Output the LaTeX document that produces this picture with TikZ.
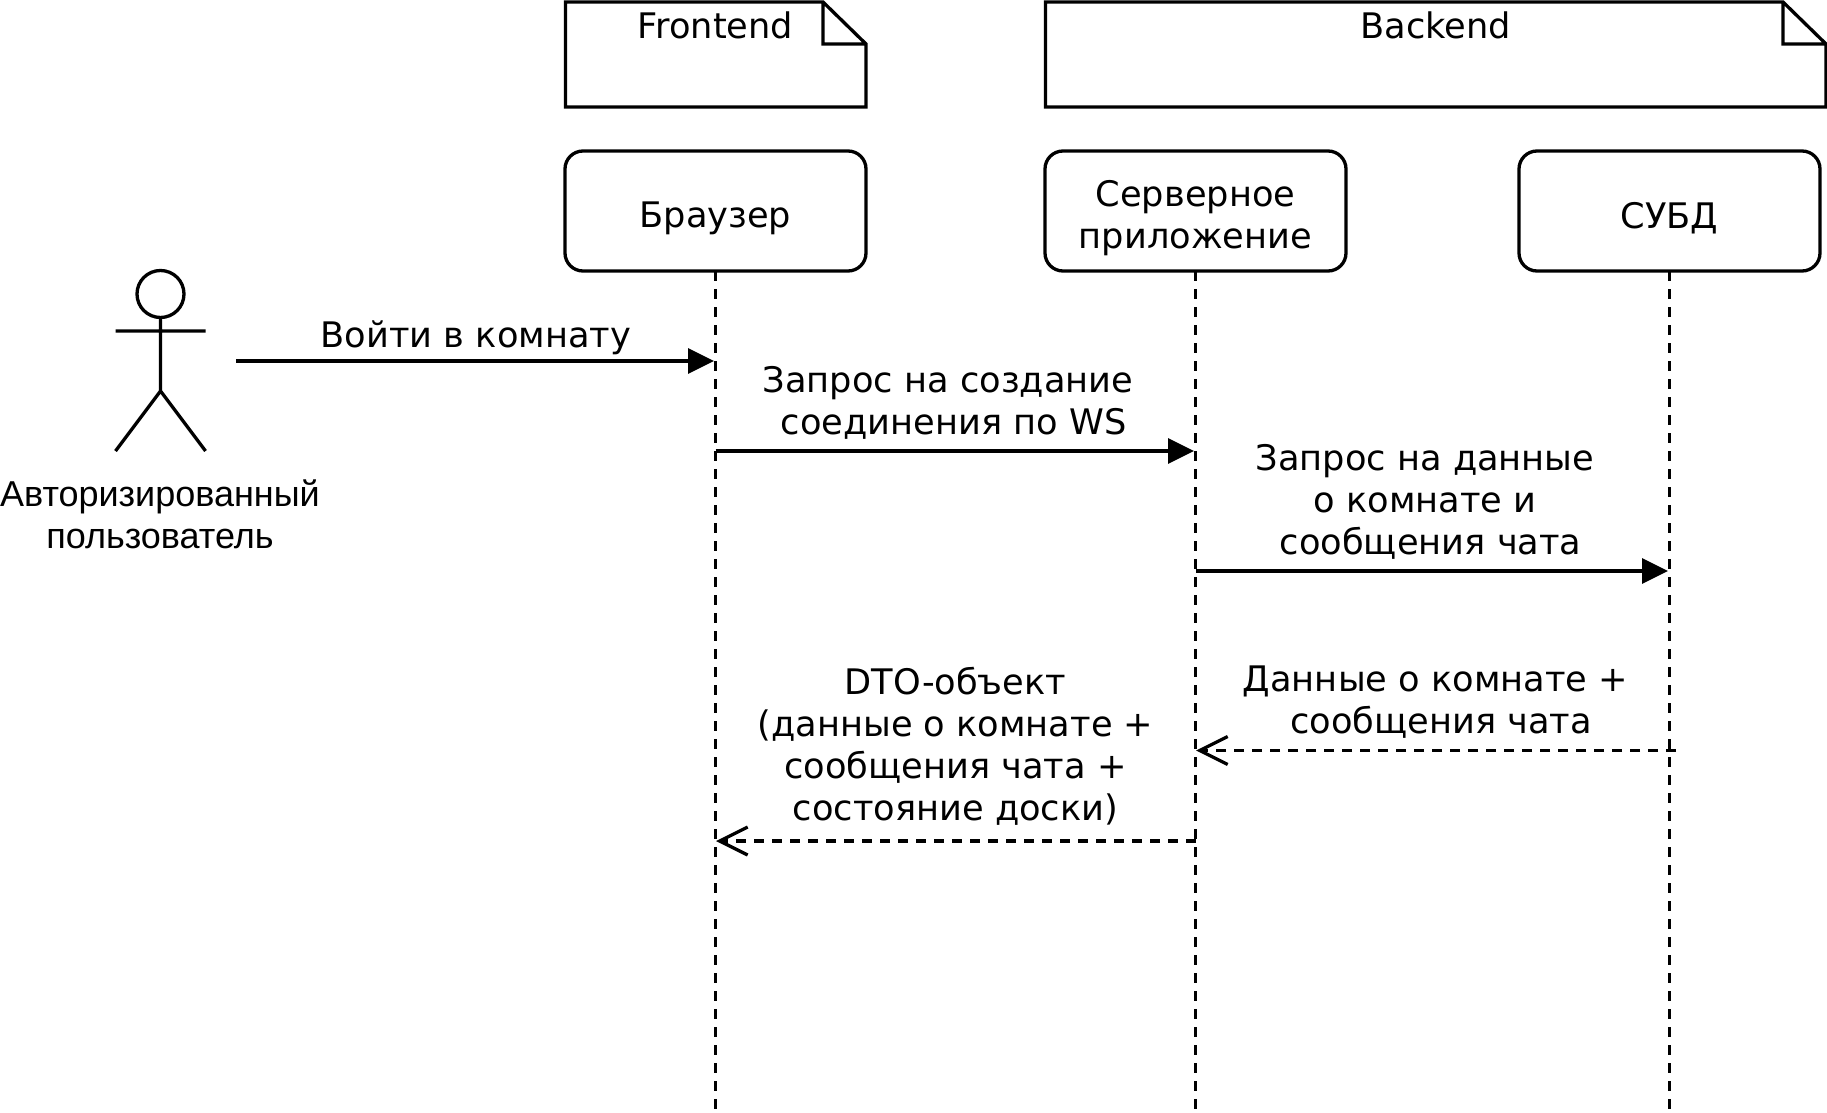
\documentclass[tikz,border=0pt]{standalone}
\usepackage{fontspec}
\setmainfont{DejaVu Sans}
\newfontfamily\actorfont{Liberation Sans}
\usetikzlibrary{arrows.meta}
\newcommand{\notepath}[4]{(#1,#3) -- (#2-43,#3) -- (#2,#3+42) -- (#2,#4) -- (#1,#4) -- cycle (#2-43,#3) -- (#2-43,#3+42) -- (#2,#3+42)}
\newcommand{\padtxt}{\rule{0pt}{20pt}}
\tikzset{
  lbl/.style={inner sep=0pt, outer sep=0pt, align=center, font=\fontsize{17.6}{21}\selectfont},
  lifebox/.style={draw, rounded corners=9pt, minimum width=150.5pt, minimum height=60pt, lbl},
  lifeline/.style={dash pattern=on 5pt off 4pt},
  msg/.style={-{Triangle[length=13pt,width=12.5pt]}},
  ret/.style={dash pattern=on 5pt off 4pt, -{Straight Barb[length=14pt,width=14pt]}},
}

\begin{document}
\begin{tikzpicture}[x=.5pt, y=-.5pt, line width=1.65pt]
  \useasboundingbox (0,0) rectangle (1827,1113);
  % notes
  \draw \notepath{565.5}{866}{2}{107};
  \draw \notepath{1045.5}{1826}{2}{107};
  \node[lbl] (front) at (715.5,25) {Frontend};
  \node[lbl] (back) at (1436,25) {Backend};
  % lifelines
  \node[lifebox] (brows) at (715.5,211) {\padtxt Браузер};
  \node[lifebox] (serv) at (1195.5,211) {\padtxt Серверное\\приложение};
  \node[lifebox] (subd) at (1669.5,211) {\padtxt СУБД};
  \coordinate (browsend) at (715.5,1108.5);
  \coordinate (servend) at (1195.5,1108.5);
  \coordinate (subdend) at (1669.5,1108.5);
  \draw[lifeline] (brows.south) -- (browsend);
  \draw[lifeline] (serv.south) -- (servend);
  \draw[lifeline] (subd.south) -- (subdend);
  % actor
  \node[draw, circle, inner sep=0pt, minimum size=23.5pt, outer sep=0pt] (head) at (160.5,294) {};
  \coordinate (hip) at (160.5,391);
  \draw (head.south) -- (hip) (115.5,331) -- (205.5,331) (115.5,451) -- (hip) -- (205.5,451);
  \node[lbl, font=\actorfont\fontsize{18}{21}\selectfont] (actor) at (160,514.5) {Авторизированный\\пользователь};
  % messages
  \coordinate (m1a) at (236,361);
  \coordinate (m1b) at (714,361);
  \coordinate (m2a) at (715.5,451);
  \coordinate (m2b) at (1194,451);
  \coordinate (m3a) at (1195.5,571);
  \coordinate (m3b) at (1668,571);
  \coordinate (m4a) at (1676,750.5);
  \coordinate (m4b) at (1196,750.5);
  \coordinate (m5a) at (1195.5,841);
  \coordinate (m5b) at (716,841);
  \draw[msg] (m1a) -- (m1b);
  \draw[msg] (m2a) -- (m2b);
  \draw[msg] (m3a) -- (m3b);
  \draw[ret] (m4a) -- (m4b);
  \draw[ret] (m5a) -- (m5b);
  \node[lbl] (t1) at (476,338) {Войти в комнату};
  \node[lbl] (t2) at (948,402.5) {Запрос на создание\\~соединения по WS};
  \node[lbl] (t3) at (1425,501.5) {Запрос на данные\\о комнате и\\~сообщения чата};
  \node[lbl] (t4) at (1435.5,702.5) {Данные о комнате +\\~сообщения чата};
  \node[lbl] (t5) at (955.5,746) {DTO-объект\\(данные о комнате +\\сообщения чата +\\состояние доски)};
\end{tikzpicture}
\end{document}
